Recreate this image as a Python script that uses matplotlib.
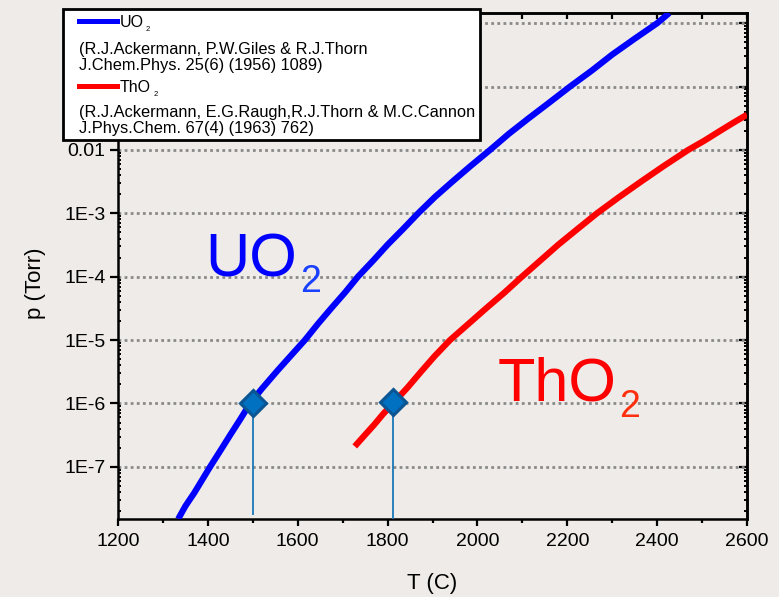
import matplotlib
matplotlib.use("Agg")
import matplotlib.pyplot as plt
from matplotlib.lines import Line2D
from matplotlib.patches import Rectangle
from matplotlib.ticker import FixedLocator, MultipleLocator, LogLocator, NullFormatter

# vapour pressure curves (T in C, p in Torr)
UO2_T = [1334, 1350, 1370, 1405, 1430, 1450, 1472, 1494, 1520, 1555, 1585, 1616,
         1645, 1675, 1705, 1734, 1768, 1800, 1835, 1868, 1905, 1945, 1985, 2028,
         2070, 2115, 2160, 2206, 2255, 2300, 2350, 2400, 2427]
UO2_P = [1.5e-8, 2.4e-8, 3.9e-8, 1.0e-7, 1.9e-7, 3.2e-7, 5.6e-7, 1.0e-6, 1.7e-6,
         3.3e-6, 5.7e-6, 1.0e-5, 1.8e-5, 3.2e-5, 5.6e-5, 1.0e-4, 1.8e-4, 3.2e-4,
         5.7e-4, 1.0e-3, 1.8e-3, 3.2e-3, 5.6e-3, 1.0e-2, 1.8e-2, 3.2e-2, 5.6e-2,
         0.10, 0.18, 0.32, 0.57, 1.0, 1.45]
THO2_T = [1727, 1750, 1770, 1790, 1812, 1845, 1875, 1905, 1939, 1980, 2020, 2060,
          2099, 2140, 2180, 2222, 2266, 2315, 2365, 2415, 2469, 2505, 2540, 2570,
          2600]
THO2_P = [2.1e-7, 3.2e-7, 4.6e-7, 6.8e-7, 1.0e-6, 1.8e-6, 3.2e-6, 5.6e-6, 1.0e-5,
          1.8e-5, 3.2e-5, 5.6e-5, 1.0e-4, 1.8e-4, 3.2e-4, 5.6e-4, 1.0e-3, 1.8e-3,
          3.2e-3, 5.6e-3, 1.0e-2, 1.4e-2, 2.0e-2, 2.7e-2, 3.6e-2]

# temperatures where p = 1E-6 Torr
MARK_T = [1500, 1812]
MARK_P = [1.0e-6, 1.05e-6]
MARK_LOW = [1.75e-8, 1.5e-8]

X_TICKS = [1200, 1400, 1600, 1800, 2000, 2200, 2400, 2600]
Y_TICKS = [1e-7, 1e-6, 1e-5, 1e-4, 1e-3, 1e-2, 1e-1, 1]
Y_LABELS = ["1E-7", "1E-6", "1E-5", "1E-4", "1E-3", "0.01", "0.1", "1"]

UO2_REF = ["(R.J.Ackermann, P.W.Giles & R.J.Thorn",
           "J.Chem.Phys. 25(6) (1956) 1089)"]
THO2_REF = ["(R.J.Ackermann, E.G.Raugh,R.J.Thorn & M.C.Cannon",
            "J.Phys.Chem. 67(4) (1963) 762)"]

W, H = 779, 597
BG = "#eeebe8"

plt.rcParams["font.family"] = ["Liberation Sans", "DejaVu Sans"]


def fx(x):
    return x / W


def fy(y):
    return 1 - y / H


fig = plt.figure(figsize=(W / 100, H / 100), dpi=100, facecolor=BG)
ax = fig.add_axes([fx(118), fy(519), fx(747) - fx(118), fy(13) - fy(519)])
ax.set_facecolor(BG)
ax.set_yscale("log")
ax.set_xlim(1200, 2600)
ax.set_ylim(1.5e-8, 1.45)

for s in ax.spines.values():
    s.set_linewidth(1.8)

ax.yaxis.set_major_locator(FixedLocator(Y_TICKS))
ax.set_yticklabels(Y_LABELS)
ax.yaxis.set_minor_locator(LogLocator(base=10, subs=range(2, 10)))
ax.yaxis.set_minor_formatter(NullFormatter())
ax.set_xticks(X_TICKS)
ax.xaxis.set_minor_locator(MultipleLocator(100))

ax.tick_params(axis="x", which="major", direction="out", length=5, width=1.6,
               labelsize=14, pad=5)
ax.tick_params(axis="x", which="minor", direction="out", length=3, width=1.6)
ax.tick_params(axis="y", which="major", direction="out", length=6, width=1.6,
               labelsize=14, pad=3)
ax.tick_params(axis="y", which="minor", direction="in", length=2, width=1.4)

top = ax.secondary_xaxis("top")
top.set_xticks(X_TICKS)
top.xaxis.set_minor_locator(MultipleLocator(100))
top.tick_params(which="both", direction="in", length=4, width=1.6, labeltop=False)
top.spines["top"].set_linewidth(1.8)

right = ax.secondary_yaxis("right")
right.yaxis.set_major_locator(FixedLocator(Y_TICKS))
right.yaxis.set_minor_locator(LogLocator(base=10, subs=range(2, 10)))
right.yaxis.set_minor_formatter(NullFormatter())
right.tick_params(which="major", direction="in", length=6, width=1.6, labelright=False)
right.tick_params(which="minor", direction="in", length=2.5, width=1.4)
right.spines["right"].set_linewidth(1.8)

ax.grid(True, axis="y", which="major", color="#8a8a8a", linewidth=2.0,
        linestyle=(0, (1, 1.2)))
ax.set_axisbelow(True)

ax.plot(UO2_T, UO2_P, color="#0000ff", linewidth=4.5, solid_capstyle="butt",
        solid_joinstyle="round", zorder=3)
ax.plot(THO2_T, THO2_P, color="#ff0000", linewidth=4.5, solid_capstyle="butt",
        solid_joinstyle="round", zorder=3)

ax.vlines(MARK_T, MARK_LOW, MARK_P, color="#1a78b8", linewidth=1.3, zorder=4)
ax.plot(MARK_T, MARK_P, linestyle="none", marker="D", markersize=13,
        markerfacecolor="#0070c0", markeredgecolor="#0b5592", markeredgewidth=2.2,
        zorder=5)

# big curve names, subscript drawn as its own text
ax.text(1394, 1e-4, "UO", color="#0000ff", fontsize=44, va="baseline", zorder=6)
ax.annotate("2", xy=(1394, 1e-4), xytext=(95, -15), textcoords="offset pixels",
            color="#1a40ff", fontsize=27, va="baseline", zorder=6)
ax.text(2044, 1.1e-6, "ThO", color="#ff0000", fontsize=44, va="baseline", zorder=6)
ax.annotate("2", xy=(2044, 1.1e-6), xytext=(122, -16), textcoords="offset pixels",
            color="#ff3010", fontsize=27, va="baseline", zorder=6)

fig.text(fx(35), fy(283), "p (Torr)", rotation=90, fontsize=16,
         ha="center", va="center")
fig.text(fx(432), fy(583), "T (C)", fontsize=16, ha="center", va="center")

# legend box, drawn by hand in pixel positions of the figure
fig.patches.append(Rectangle((fx(63), fy(140)), fx(480) - fx(63), fy(9) - fy(140),
                             transform=fig.transFigure, facecolor="white",
                             edgecolor="black", linewidth=2.0, zorder=10))
fig.lines.append(Line2D([fx(79), fx(117)], [fy(21), fy(21)], transform=fig.transFigure,
                        color="#0000ff", linewidth=3.6, zorder=11))
fig.lines.append(Line2D([fx(79), fx(117)], [fy(86), fy(86)], transform=fig.transFigure,
                        color="#ff0000", linewidth=3.6, zorder=11))
fig.text(fx(120), fy(27), "UO", fontsize=11.5, va="baseline", zorder=11)
fig.text(fx(146), fy(31), "2", fontsize=5.5, va="baseline", zorder=11)
fig.text(fx(120), fy(92), "ThO", fontsize=11.5, va="baseline", zorder=11)
fig.text(fx(154), fy(96), "2", fontsize=5.5, va="baseline", zorder=11)
for i, line in enumerate(UO2_REF):
    fig.text(fx(79), fy(54 + 16 * i), line, fontsize=11.8, va="baseline", zorder=11)
for i, line in enumerate(THO2_REF):
    fig.text(fx(79), fy(117 + 16 * i), line, fontsize=11.8, va="baseline", zorder=11)

fig.savefig("out.png", dpi=100, facecolor=BG)
